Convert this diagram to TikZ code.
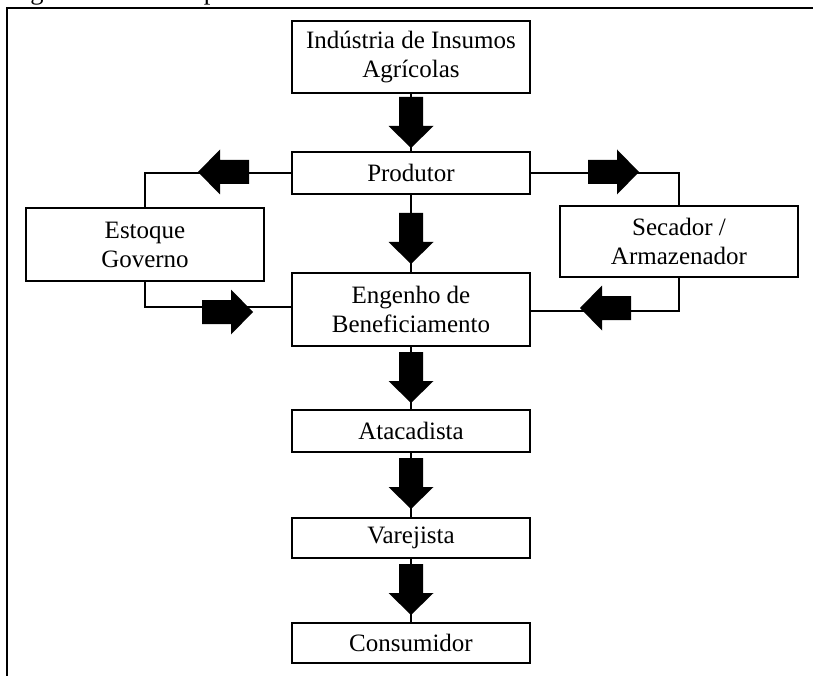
\documentclass[tikz,border=0pt]{standalone}
\usepackage{fontspec}
\setmainfont{Liberation Serif}
\begin{document}
\begin{tikzpicture}[x=1pt,y=-1pt,
  box/.style={draw=black,line width=1.4pt,fill=white,align=center,inner sep=0pt,
    font=\fontsize{25}{29}\selectfont},
  conn/.style={draw=black,line width=2pt},
  blockarr/.pic={\fill[black] (0,-12) -- (29,-12) -- (29,-22.5) -- (51,0) -- (29,22.5) -- (29,12) -- (0,12) -- cycle;}
]
\useasboundingbox (0,0) rectangle (813,676);
% caption (cut off at the top of the page, as in the reference)
\node[anchor=base west,inner sep=0pt,font=\fontsize{26.5}{30}\selectfont] (cap) at (8,-0.5) {Figura 3 – Cadeia produtiva do arroz};
% frame
\draw[line width=2.2pt] (7,676) -- (7,8) -- (813,8);

% nodes
\node[box,minimum width=237pt,minimum height=72pt] (ind) at (411,57) {Indústria de Insumos\\Agrícolas};
\node[box,minimum width=237pt,minimum height=42pt] (prod) at (411,173) {Produtor};
\node[box,minimum width=238pt,minimum height=73pt] (eng) at (411,309.5) {Engenho de\\Beneficiamento};
\node[box,minimum width=238pt,minimum height=42pt] (ata) at (411,431) {Atacadista};
\node[box,minimum width=238pt,minimum height=40pt] (var) at (411,538) {Varejista};
\node[box,minimum width=238pt,minimum height=40pt] (con) at (411,643) {Consumidor};
\node[box,minimum width=238pt,minimum height=73pt] (est) at (145,244.5) {Estoque\\Governo};
\node[box,minimum width=238pt,minimum height=71pt] (sec) at (679,241.5) {Secador /\\Armazenador};

% connectors
\draw[conn] (ind.south) -- (prod.north);
\draw[conn] (prod.south) -- (eng.north);
\draw[conn] (eng.south) -- (ata.north);
\draw[conn] (ata.south) -- (var.north);
\draw[conn] (var.south) -- (con.north);
\draw[conn] (prod.west) -| (est.north);
\draw[conn] (est.south) |- ([yshift=2.5pt]eng.west);
\draw[conn] (prod.east) -| (sec.north);
\draw[conn] (sec.south) |- ([yshift=-1.5pt]eng.east);

% redraw box borders over connector ends
\foreach \n in {ind,prod,eng,ata,var,con,est,sec}{\draw[line width=1.4pt] (\n.north west) rectangle (\n.south east);}

% block arrows
\pic[rotate=-90] at (411,97) {blockarr};
\pic[rotate=-90] at (411,213) {blockarr};
\pic[rotate=-90] at (411,352) {blockarr};
\pic[rotate=-90] at (411,458) {blockarr};
\pic[rotate=-90] at (411,564) {blockarr};
\pic[rotate=180] at (249,172) {blockarr};
\pic at (202,312) {blockarr};
\pic at (588,172) {blockarr};
\pic[rotate=180] at (631,308) {blockarr};
\end{tikzpicture}
\end{document}
